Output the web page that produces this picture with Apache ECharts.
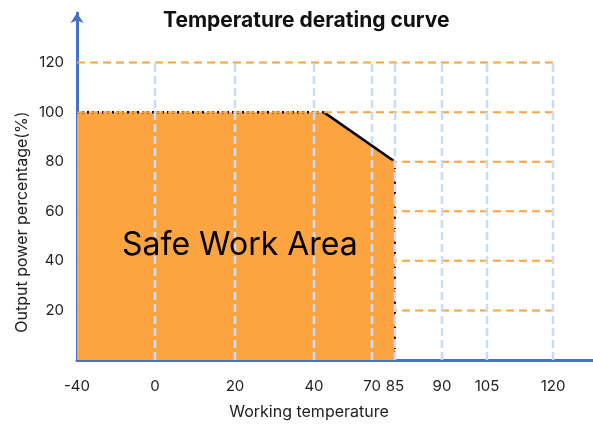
<!DOCTYPE html>
<html>
<head>
<meta charset="utf-8">
<script src="https://cdn.jsdelivr.net/npm/echarts@6/dist/echarts.min.js"></script>
<style>html,body{margin:0;padding:0;background:#fff}#c{width:593px;height:428px}</style>
</head>
<body>
<div id="c"></div>
<script>
// ---- data ----
const titleText = 'Temperature derating curve';
const xName = 'Working temperature';
const yName = 'Output power percentage(%)';
const areaLabel = 'Safe Work Area';
const xTicks = [-40, 0, 20, 40, 70, 85, 90, 105, 120];
const yTicks = [20, 40, 60, 80, 100, 120];
const safeTemp = [-40, -40, 45, 85, 85];
const safePower = [0, 100, 100, 80, 0];

// ---- non-linear (schematic) x scale: axis units between successive ticks ----
const xGaps = [78, 80, 79, 58, 23, 47, 45, 66];
const xTail = 40;
const xCum = [0];
xGaps.forEach((g, i) => xCum.push(xCum[i] + g));
function toX(t) {
  for (let i = 0; i < xTicks.length - 1; i++) {
    if (t <= xTicks[i + 1] || i === xTicks.length - 2) {
      return xCum[i] + (t - xTicks[i]) / (xTicks[i + 1] - xTicks[i]) * xGaps[i];
    }
  }
}
function xLabel(v) {
  let best = 0;
  xCum.forEach((c, i) => { if (Math.abs(c - v) < Math.abs(xCum[best] - v)) best = i; });
  return String(xTicks[best]);
}

const FONT = 'Inter';
const AX = '#4472c4';
const ORANGE = '#fca540';
const series = [];

// fill
series.push({
  type: 'line', z: 2, symbol: 'none', silent: true, animation: false,
  data: safeTemp.map((t, i) => [toX(t), safePower[i]]),
  lineStyle: { width: 0 },
  areaStyle: { color: ORANGE, opacity: 1 }
});
// outline
function seg(i, j, type, w) {
  series.push({
    type: 'line', z: 3, symbol: 'none', silent: true, animation: false,
    data: [[toX(safeTemp[i]), safePower[i]], [toX(safeTemp[j]), safePower[j]]],
    lineStyle: { color: '#000', width: w, type: type }
  });
}
seg(1, 2, [2, 3], 2.5);
seg(2, 3, 'solid', 2.5);
seg(3, 4, [2, 3], 2);

// horizontal grid lines
yTicks.forEach(y => {
  series.push({
    type: 'line', z: 4, symbol: 'none', silent: true, animation: false,
    data: [[toX(xTicks[0]), y], [toX(xTicks[xTicks.length - 1]), y]],
    lineStyle: { color: '#f9a43c', width: 2, type: [8, 5] }
  });
});
// vertical grid lines
xTicks.slice(1).forEach(t => {
  series.push({
    type: 'line', z: 5, symbol: 'none', silent: true, animation: false,
    data: [[toX(t), 0], [toX(t), yTicks[yTicks.length - 1]]],
    lineStyle: { color: '#c6dcfa', width: 2.5, type: [8, 4] }
  });
});

const chart = echarts.init(document.getElementById('c'), null, { renderer: 'canvas' });
chart.setOption({
  animation: false,
  backgroundColor: '#fff',
  title: {
    text: titleText, left: 158, top: 5,
    textStyle: { fontFamily: FONT, fontSize: 21, fontWeight: 'bold', color: '#111' }
  },
  grid: { left: 77, right: 0, top: 13, bottom: 68, containLabel: false },
  xAxis: {
    type: 'value', min: 0, max: xCum[xCum.length - 1] + xTail,
    axisLine: { show: true, onZero: false, lineStyle: { color: AX, width: 3 } },
    axisTick: { show: false },
    splitLine: { show: false },
    axisLabel: {
      customValues: xTicks.map(toX), formatter: xLabel,
      color: '#222', fontSize: 15, fontFamily: FONT, margin: 19
    }
  },
  yAxis: {
    type: 'value', min: 0, max: 140, interval: 20,
    axisLine: { show: true, symbol: ['none', 'arrow'], symbolSize: [10, 10], lineStyle: { color: AX, width: 3 } },
    axisTick: { show: false },
    splitLine: { show: false },
    axisLabel: {
      customValues: yTicks,
      color: '#222', fontSize: 15, fontFamily: FONT, margin: 13
    }
  },
  graphic: [
    { type: 'text', left: 122, top: 229, z: 100,
      style: { text: areaLabel, fill: '#000', font: '32px Inter' } },
    { type: 'text', x: 22, y: 222, rotation: Math.PI / 2, z: 100,
      style: { text: yName, fill: '#222', font: '16px Inter', textAlign: 'center', textVerticalAlign: 'middle' } },
    { type: 'text', x: 309, y: 412, z: 100,
      style: { text: xName, fill: '#222', font: '16px Inter', textAlign: 'center', textVerticalAlign: 'middle' } }
  ],
  series: series
});
</script>
</body>
</html>
